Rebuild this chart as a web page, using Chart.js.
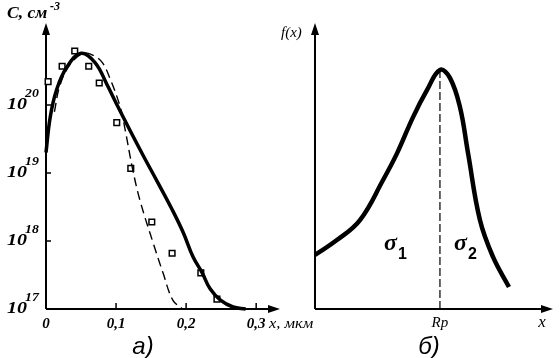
<!DOCTYPE html>
<html>
<head>
<meta charset="utf-8">
<script src="https://cdn.jsdelivr.net/npm/chart.js@4/dist/chart.umd.min.js"></script>
<style>
  body { margin: 0; background: #fff; }
  #wrap { position: relative; width: 560px; height: 358px; overflow: hidden; }
  canvas { position: absolute; top: 0; }
</style>
</head>
<body>
<div id="wrap">
  <canvas id="left" width="330" height="358" style="left:0"></canvas>
  <canvas id="right" width="280" height="358" style="left:280px"></canvas>
</div>
<script>
// panel a): concentration profiles, C in cm^-3, x in µm
const solidX = [0, 0.006, 0.015, 0.03, 0.05, 0.07, 0.087, 0.1, 0.12, 0.14, 0.16, 0.18, 0.196, 0.21, 0.223, 0.234, 0.249, 0.267, 0.285];
const solidC = [2.0e19, 6.6e19, 1.66e20, 3.63e20, 5.75e20, 4.2e20, 2.0e20, 1.07e20, 4.2e19, 1.7e19, 7.1e18, 2.9e18, 1.32e18, 5.8e17, 3.4e17, 2.0e17, 1.35e17, 1.07e17, 1.0e17];

const dashX = [0.012, 0.02, 0.035, 0.054, 0.07, 0.081, 0.091, 0.106, 0.113, 0.123, 0.134, 0.153, 0.167, 0.181, 0.194];
const dashC = [7.9e19, 1.95e20, 4.0e20, 5.75e20, 5.2e20, 4.1e20, 2.5e20, 9.3e19, 4.3e19, 1.23e19, 4.0e18, 9.3e17, 3.4e17, 1.35e17, 1.02e17];

const pointX = [0.003, 0.023, 0.041, 0.061, 0.076, 0.101, 0.121, 0.151, 0.18, 0.221, 0.244];
const pointC = [2.2e20, 3.7e20, 6.2e20, 3.7e20, 2.1e20, 5.5e19, 1.17e19, 1.9e18, 6.6e17, 3.4e17, 1.4e17];

const xTicks = [0, 0.1, 0.2, 0.3];
const xTickLabels = ['0', '0,1', '0,2', '0,3'];
const yTicks = [1e17, 1e18, 1e19, 1e20];
const yTickExp = ['17', '18', '19', '20'];

// panel б): f(x) schematic, arbitrary units
const fX = [0, 0.092, 0.189, 0.286, 0.345, 0.412, 0.471, 0.525, 0.567, 0.609, 0.643, 0.693, 0.748, 0.815];
const fY = [0.189, 0.241, 0.311, 0.451, 0.545, 0.671, 0.766, 0.836, 0.808, 0.706, 0.545, 0.311, 0.182, 0.077];
const rp = 0.525;
const rpPeak = 0.836;

function pts(xs, ys) {
    return xs.map((x, i) => ({ x: x, y: ys[i] }));
}

const serif = "'Liberation Serif', 'DejaVu Serif', serif";
const sans = "'Liberation Sans', Arial, sans-serif";

function arrowUp(ctx, x, y) {
    ctx.beginPath();
    ctx.moveTo(x, y);
    ctx.lineTo(x - 4, y + 12);
    ctx.lineTo(x + 4, y + 12);
    ctx.closePath();
    ctx.fill();
}
function arrowRight(ctx, x, y) {
    ctx.beginPath();
    ctx.moveTo(x, y);
    ctx.lineTo(x - 12, y - 4);
    ctx.lineTo(x - 12, y + 4);
    ctx.closePath();
    ctx.fill();
}

function drawAxes(chart) {
    const ctx = chart.ctx;
    const a = chart.chartArea;
    ctx.save();
    ctx.strokeStyle = '#000';
    ctx.fillStyle = '#000';
    ctx.lineWidth = 2;
    ctx.beginPath();
    ctx.moveTo(a.left, a.bottom);
    ctx.lineTo(a.left, a.top + 4);
    ctx.moveTo(a.left, a.bottom);
    ctx.lineTo(a.right - 4, a.bottom);
    ctx.stroke();
    arrowUp(ctx, a.left, a.top);
    arrowRight(ctx, a.right, a.bottom);
    ctx.restore();
}

// stretched text, the scanned labels are wider than the font
function wideText(ctx, txt, x, y, sx) {
    ctx.save();
    ctx.translate(x, y);
    ctx.scale(sx, 1);
    ctx.fillText(txt, 0, 0);
    ctx.restore();
}

const leftDecor = {
    id: 'leftDecor',
    beforeDatasetsDraw(chart) {
        drawAxes(chart);
        const ctx = chart.ctx;
        const a = chart.chartArea;
        const xs = chart.scales.x;
        const ys = chart.scales.y;
        ctx.save();
        ctx.strokeStyle = '#000';
        ctx.lineWidth = 1.5;
        ctx.beginPath();
        for (let i = 1; i < xTicks.length; i++) {
            const px = xs.getPixelForValue(xTicks[i]);
            ctx.moveTo(px, a.bottom);
            ctx.lineTo(px, a.bottom - 6);
        }
        for (let i = 1; i < yTicks.length; i++) {
            const py = ys.getPixelForValue(yTicks[i]);
            ctx.moveTo(a.left, py);
            ctx.lineTo(a.left + 5, py);
        }
        ctx.stroke();
        ctx.restore();
    },
    afterDraw(chart) {
        const ctx = chart.ctx;
        const a = chart.chartArea;
        const xs = chart.scales.x;
        const ys = chart.scales.y;
        ctx.save();
        ctx.fillStyle = '#000';
        ctx.textBaseline = 'alphabetic';
        // x tick labels
        ctx.font = 'bold italic 15px ' + serif;
        ctx.textAlign = 'center';
        xTicks.forEach((v, i) => {
            ctx.fillText(xTickLabels[i], xs.getPixelForValue(v), a.bottom + 19);
        });
        // y tick labels 10^n
        ctx.textAlign = 'left';
        yTicks.forEach((v, i) => {
            const py = ys.getPixelForValue(v);
            ctx.font = 'bold italic 16px ' + serif;
            wideText(ctx, '10', 7, py + 4, 1.25);
            ctx.font = 'bold italic 12px ' + serif;
            wideText(ctx, yTickExp[i], 25, py - 8, 1.15);
        });
        // axis titles
        ctx.font = 'bold italic 16px ' + serif;
        wideText(ctx, 'C, см', 7, 18, 1.1);
        ctx.font = 'bold italic 12px ' + serif;
        ctx.fillText('-3', 50, 10);
        ctx.font = 'italic 15px ' + serif;
        wideText(ctx, 'x, мкм', 269, a.bottom + 19, 1.1);
        ctx.font = 'italic 24px ' + sans;
        ctx.textAlign = 'center';
        ctx.fillText('а)', 143, 354);
        ctx.restore();
    }
};

const rightDecor = {
    id: 'rightDecor',
    beforeDatasetsDraw(chart) {
        drawAxes(chart);
    },
    afterDraw(chart) {
        const ctx = chart.ctx;
        const a = chart.chartArea;
        const xs = chart.scales.x;
        ctx.save();
        ctx.fillStyle = '#000';
        ctx.textBaseline = 'alphabetic';
        ctx.textAlign = 'left';
        ctx.font = 'italic 15px ' + serif;
        ctx.fillText('f(x)', 1, 37);
        ctx.textAlign = 'center';
        ctx.fillText('Rp', xs.getPixelForValue(rp), a.bottom + 18);
        ctx.font = 'italic 17px ' + serif;
        ctx.fillText('x', 262, a.bottom + 18);
        // sigma labels
        ctx.textAlign = 'left';
        ctx.font = 'bold italic 24px ' + serif;
        ctx.fillText('σ', 104, 250);
        ctx.fillText('σ', 174, 250);
        ctx.font = 'bold 16px ' + sans;
        ctx.fillText('1', 118, 259);
        ctx.fillText('2', 188, 259);
        ctx.font = 'italic 24px ' + sans;
        ctx.textAlign = 'center';
        ctx.fillText('б)', 149, 354);
        ctx.restore();
    }
};

const common = {
    responsive: false,
    animation: false,
    plugins: { legend: { display: false }, tooltip: { enabled: false } },
    elements: { point: { radius: 0 } }
};

new Chart(document.getElementById('left'), {
    type: 'line',
    data: {
        datasets: [
            {
                data: pts(solidX, solidC),
                borderColor: '#000',
                borderWidth: 3.5,
                tension: 0.4,
                clip: 8
            },
            {
                data: pts(dashX, dashC),
                borderColor: '#000',
                borderWidth: 1.4,
                borderDash: [9, 5],
                tension: 0.4,
                clip: 8
            },
            {
                data: pts(pointX, pointC),
                showLine: false,
                pointStyle: 'rect',
                pointRadius: 4,
                pointBorderWidth: 1.5,
                pointBorderColor: '#000',
                pointBackgroundColor: '#fff',
                clip: 8
            }
        ]
    },
    options: Object.assign({}, common, {
        layout: { padding: { left: 46, right: 50, top: 23, bottom: 49 } },
        scales: {
            x: { type: 'linear', min: 0, max: 0.334, display: false },
            y: { type: 'logarithmic', min: 1e17, max: 1.6e21, display: false }
        }
    }),
    plugins: [leftDecor]
});

new Chart(document.getElementById('right'), {
    type: 'line',
    data: {
        datasets: [
            {
                data: pts(fX, fY),
                borderColor: '#000',
                borderWidth: 4.5,
                tension: 0.4,
                clip: 8
            },
            {
                data: [{ x: rp, y: rpPeak }, { x: rp, y: 0 }],
                borderColor: '#000',
                borderWidth: 1.2,
                borderDash: [8, 3]
            }
        ]
    },
    options: Object.assign({}, common, {
        layout: { padding: { left: 35, right: 7, top: 23, bottom: 49 } },
        scales: {
            x: { type: 'linear', min: 0, max: 1, display: false },
            y: { type: 'linear', min: 0, max: 1, display: false }
        }
    }),
    plugins: [rightDecor]
});
</script>
</body>
</html>
